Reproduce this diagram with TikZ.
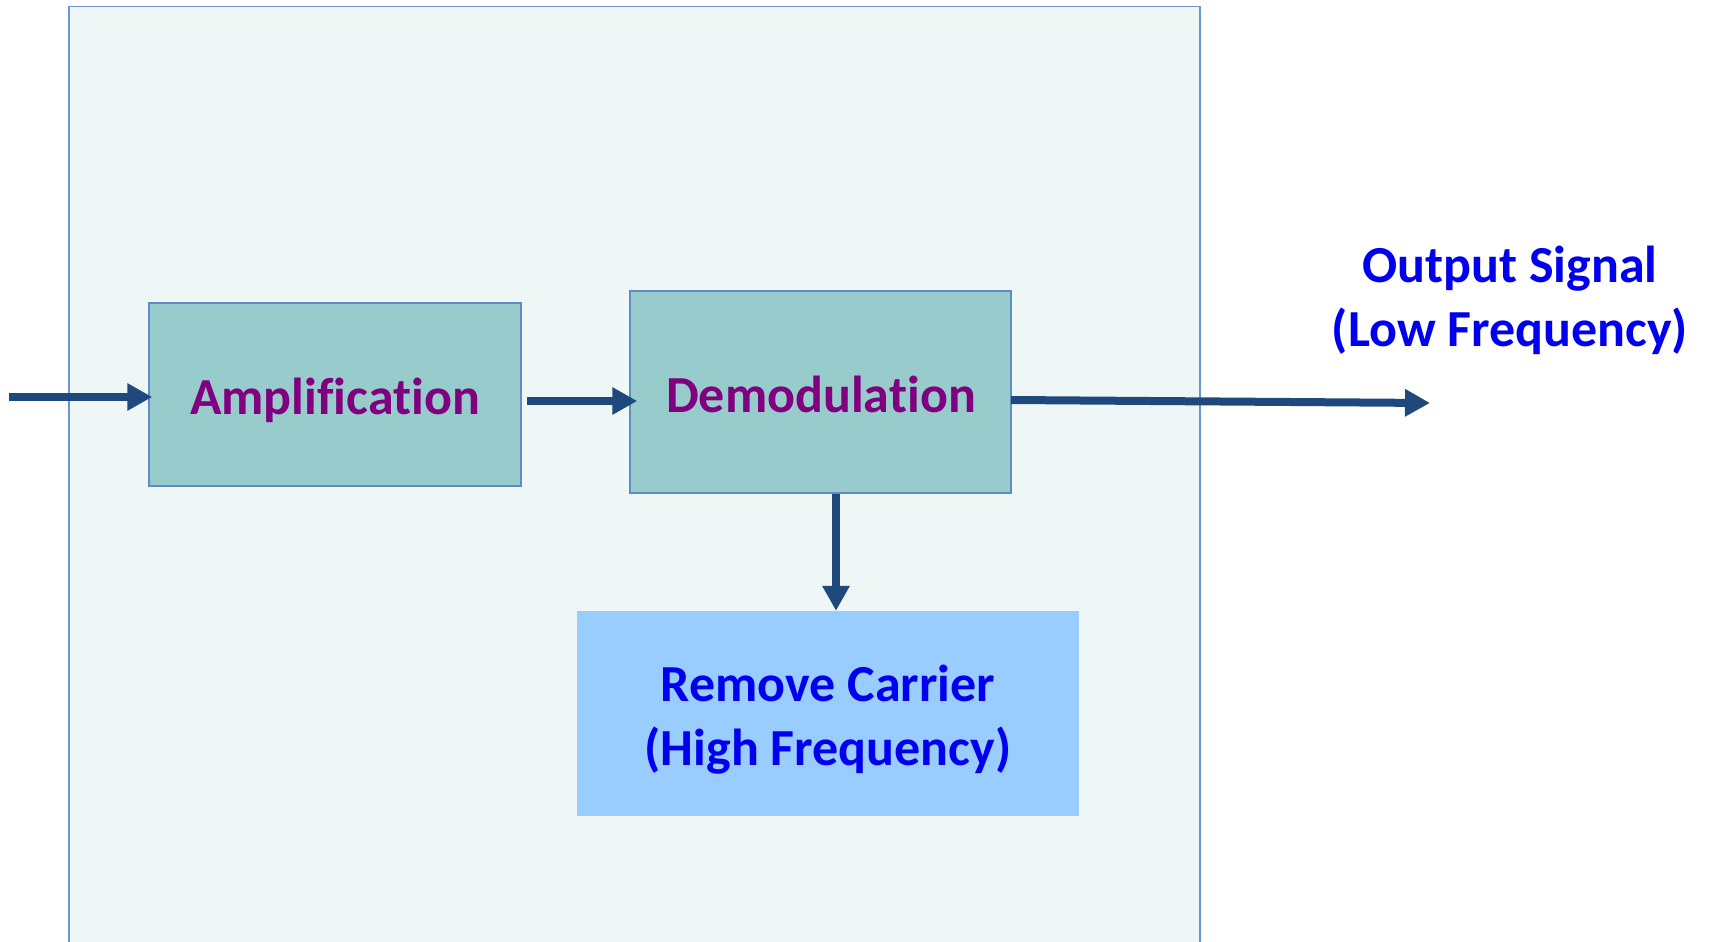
\documentclass[tikz,border=0pt]{standalone}
\usepackage{fontspec}
\setmainfont{Carlito}[Ligatures={NoCommon,NoRare}]
\usetikzlibrary{arrows.meta}
\definecolor{bgfill}{HTML}{EEF7F6}
\definecolor{bgline}{HTML}{6C95CE}
\definecolor{boxfill}{HTML}{98CCCC}
\definecolor{boxline}{HTML}{5F8CC6}
\definecolor{remfill}{HTML}{99CCFF}
\definecolor{purp}{HTML}{800080}
\definecolor{bluetxt}{HTML}{0000EE}
\definecolor{arrc}{HTML}{1F497D}
\tikzset{
  blockbox/.style={draw=boxline, line width=1.5pt, fill=boxfill, text=purp, inner sep=0pt,
     font=\fontsize{52}{64}\selectfont\bfseries},
  rembox/.style={fill=remfill, text=bluetxt, inner sep=0pt, align=center,
     font=\fontsize{52}{64}\selectfont\bfseries},
  lbl/.style={text=bluetxt, align=center, inner sep=0pt, font=\fontsize{52}{64}\selectfont\bfseries},
  arr/.style={draw=arrc, line width=8pt, -{Triangle[length=25pt,width=26pt]}},
}
\begin{document}
\begin{tikzpicture}[x=1pt,y=-1pt]
\useasboundingbox (0,0) rectangle (1709,942);
\clip (0,0) rectangle (1709,942);
\draw[draw=bgline, line width=1.5pt, fill=bgfill] (69,6.5) rectangle (1200,960);
\node[blockbox, minimum width=372pt, minimum height=183pt] (amp) at (335,394.5) {};
\node[text=purp, font=\fontsize{52}{64}\selectfont\bfseries, inner sep=0pt] (amptxt) at (335,400) {Amplification};
\node[blockbox, minimum width=381pt, minimum height=202pt] (dem) at (820.5,392) {};
\node[text=purp, font=\fontsize{52}{64}\selectfont\bfseries, inner sep=0pt] (demtxt) at (821,394) {Demodulation};
\node[rembox, minimum width=502pt, minimum height=205pt] (rem) at (828,713.5) {};
\node[text=bluetxt, align=center, inner sep=0pt, font=\fontsize{52}{64}\selectfont\bfseries] (remtxt) at (828,720) {Remove Carrier\\(High Frequency)};
\node[lbl] (out) at (1510,300) {Output Signal\\(Low Frequency)};
\coordinate (in) at (9,397);
\coordinate (a2) at (527,401);
\coordinate (o1) at (1011,400);
\coordinate (o2) at (1430,403);
\draw[arr] (in) -- ([xshift=4pt]in -| amp.west);
\draw[arr] (a2) -- ([xshift=8pt]a2 -| dem.west);
\draw[arr] (o1) -- (o2);
\draw[arr] ([xshift=15.5pt]dem.south) -- ([xshift=15.5pt]dem.south |- rem.north);
\end{tikzpicture}
\end{document}
